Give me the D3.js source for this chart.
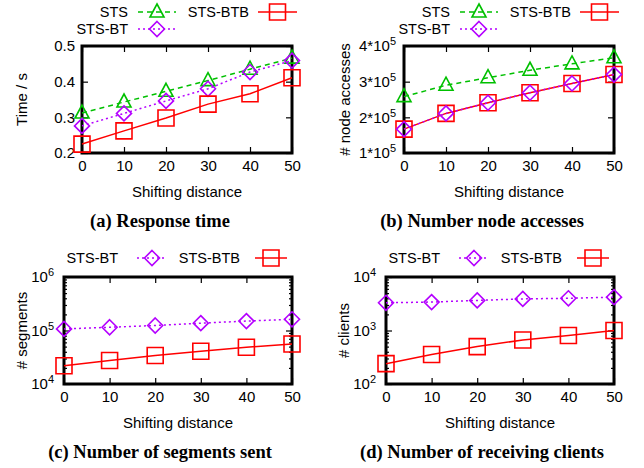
<!DOCTYPE html>
<html>
<head>
<meta charset="utf-8">
<script src="https://cdn.jsdelivr.net/npm/d3@7"></script>
<style>
  body { margin: 0; background: #fff; }
</style>
</head>
<body>
<script>
// shifting distance
const xs = [0, 10, 20, 30, 40, 50];

// (a) response time, seconds
const timeSTS = [0.312, 0.343, 0.373, 0.403, 0.435, 0.466];
const timeBT = [0.276, 0.311, 0.346, 0.380, 0.427, 0.459];
const timeBTB = [0.225, 0.262, 0.298, 0.337, 0.366, 0.411];

// (b) node accesses
const accSTS = [258000, 290000, 311000, 332000, 350000, 367000];
const accBT = [167000, 211000, 241000, 269000, 295000, 320000];
const accBTB = [167000, 211000, 241000, 269000, 295000, 320000];

// (c) segments sent
const segBT = [107000, 115000, 124000, 137000, 150000, 162000];
const segBTB = [22000, 27500, 34000, 41000, 48500, 56000];

// (d) receiving clients
const cliBT = [3300, 3400, 3650, 3900, 4000, 4200];
const cliBTB = [240, 355, 500, 665, 805, 1000];

const timeTicks = [0.2, 0.3, 0.4, 0.5];
const accTicks = [100000, 200000, 300000, 400000];

const SANS = "'Liberation Sans', Arial, sans-serif";
const SERIF = "'Liberation Serif', 'Times New Roman', serif";

const styles = {
  STS: { color: "#00c000", dash: "5,4", marker: "triangle" },
  BT: { color: "#b400ff", dash: "2,3", marker: "diamond" },
  BTB: { color: "#ff0000", dash: null, marker: "square" }
};

const svg = d3.select("body").append("svg")
  .attr("width", 644)
  .attr("height", 468)
  .style("font-family", SANS);

function markerPath(type) {
  if (type === "triangle") return "M0,-8L7,5L-7,5Z";
  if (type === "diamond") return "M0,-7.5L7.5,0L0,7.5L-7.5,0Z";
  return "M-8,-8L8,-8L8,8L-8,8Z";
}

function drawMarker(g, type, color, cx, cy) {
  g.append("path")
    .attr("d", markerPath(type))
    .attr("transform", `translate(${cx},${cy})`)
    .attr("fill", "none")
    .attr("stroke", color)
    .attr("stroke-width", 1.6);
}

function supLabel(sel, mant, exp) {
  sel.text(null);
  sel.append("tspan").text(mant);
  sel.append("tspan").attr("font-size", 11).attr("dy", "-0.55em").text(exp);
}

function drawPanel(o) {
  const g = svg.append("g");
  const x = d3.scaleLinear().domain([0, 50]).range([o.left, o.right]);
  const y = (o.log ? d3.scaleLog() : d3.scaleLinear())
    .domain(o.yDomain).range([o.bottom, o.top]);

  // bottom axis with labels
  g.append("g").attr("transform", `translate(0,${o.bottom})`)
    .call(d3.axisBottom(x).tickValues(xs).tickSize(-6).tickPadding(7));
  // top axis, ticks only
  g.append("g").attr("transform", `translate(0,${o.top})`)
    .call(d3.axisTop(x).tickValues(xs).tickSize(-6).tickFormat(""));
  // left axis
  const lx = g.append("g").attr("transform", `translate(${o.left},0)`)
    .call(d3.axisLeft(y).tickValues(o.yTicks).tickSize(-6).tickPadding(o.labelPad)
      .tickFormat(o.fmt || null));
  g.append("g").attr("transform", `translate(${o.right},0)`)
    .call(d3.axisRight(y).tickValues(o.yTicks).tickSize(-6).tickFormat(""));

  if (o.log) {
    const minor = [];
    const e0 = Math.round(Math.log10(o.yDomain[0]));
    const e1 = Math.round(Math.log10(o.yDomain[1]));
    for (let e = e0; e < e1; e++) {
      for (let k = 2; k <= 9; k++) minor.push(k * Math.pow(10, e));
    }
    g.append("g").attr("transform", `translate(${o.left},0)`)
      .call(d3.axisLeft(y).tickValues(minor).tickSize(-3).tickFormat(""));
    g.append("g").attr("transform", `translate(${o.right},0)`)
      .call(d3.axisRight(y).tickValues(minor).tickSize(-3).tickFormat(""));
  }

  g.selectAll(".domain").remove();
  g.selectAll(".tick line").attr("stroke", "#000").attr("stroke-width", 1.2);
  g.selectAll(".tick text").attr("font-size", 15).attr("fill", "#000")
    .style("font-family", SANS);

  if (o.supFormat) {
    lx.selectAll(".tick text").each(function (d) {
      const p = o.supFormat(d);
      supLabel(d3.select(this), p[0], p[1]);
    });
  }

  // frame
  g.append("rect")
    .attr("x", o.left).attr("y", o.top)
    .attr("width", o.right - o.left).attr("height", o.bottom - o.top)
    .attr("fill", "none").attr("stroke", "#000").attr("stroke-width", 3);

  // series
  o.series.forEach(s => {
    const st = styles[s.key];
    const line = d3.line().x((d, i) => x(xs[i])).y(d => y(d));
    g.append("path")
      .datum(s.values)
      .attr("d", line)
      .attr("fill", "none")
      .attr("stroke", st.color)
      .attr("stroke-width", 1.5)
      .attr("stroke-dasharray", st.dash);
    s.values.forEach((v, i) => drawMarker(g, st.marker, st.color, x(xs[i]), y(v)));
  });

  // legend
  o.legend.forEach(l => {
    const st = styles[l.key];
    g.append("text")
      .attr("x", l.tx).attr("y", l.y).attr("dy", "0.35em")
      .attr("text-anchor", "end").attr("font-size", 14.5)
      .text(l.label);
    g.append("line")
      .attr("x1", l.x1).attr("x2", l.x2).attr("y1", l.y).attr("y2", l.y)
      .attr("stroke", st.color).attr("stroke-width", 1.5)
      .attr("stroke-dasharray", st.dash);
    drawMarker(g, st.marker, st.color, (l.x1 + l.x2) / 2, l.y);
  });

  // axis titles
  g.append("text")
    .attr("transform", `translate(${o.ylabX},${(o.top + o.bottom) / 2}) rotate(-90)`)
    .attr("text-anchor", "middle").attr("dy", "0.35em").attr("font-size", 15)
    .text(o.ylabel);
  g.append("text")
    .attr("x", (o.left + o.right) / 2).attr("y", o.bottom + 44)
    .attr("text-anchor", "middle").attr("font-size", 15)
    .text("Shifting distance");

  g.append("text")
    .attr("x", o.capX).attr("y", o.bottom + 74)
    .attr("text-anchor", "middle")
    .style("font-family", SERIF)
    .attr("font-weight", "bold").attr("font-size", 18.5)
    .text(o.caption);
}

drawPanel({
  left: 82, right: 292, top: 46, bottom: 153,
  yDomain: [0.2, 0.5], yTicks: timeTicks, labelPad: 7, fmt: d3.format(".1f"),
  ylabel: "Time / s", ylabX: 22, capX: 160,
  caption: "(a) Response time",
  series: [
    { key: "STS", values: timeSTS },
    { key: "BT", values: timeBT },
    { key: "BTB", values: timeBTB }
  ],
  legend: [
    { key: "STS", label: "STS", tx: 128, x1: 138, x2: 176, y: 12 },
    { key: "BT", label: "STS-BT", tx: 128, x1: 138, x2: 176, y: 29 },
    { key: "BTB", label: "STS-BTB", tx: 249, x1: 258, x2: 297, y: 12 }
  ]
});

drawPanel({
  left: 404, right: 614, top: 46, bottom: 153,
  yDomain: [100000, 400000], yTicks: accTicks, labelPad: 8,
  supFormat: d => [Math.round(d / 100000) + "*10", "5"],
  ylabel: "# node accesses", ylabX: 345, capX: 482,
  caption: "(b) Number node accesses",
  series: [
    { key: "STS", values: accSTS },
    { key: "BTB", values: accBTB },
    { key: "BT", values: accBT }
  ],
  legend: [
    { key: "STS", label: "STS", tx: 450, x1: 460, x2: 498, y: 12 },
    { key: "BT", label: "STS-BT", tx: 450, x1: 460, x2: 498, y: 29 },
    { key: "BTB", label: "STS-BTB", tx: 571, x1: 580, x2: 619, y: 12 }
  ]
});

drawPanel({
  left: 64, right: 292, top: 277, bottom: 384, log: true,
  yDomain: [1e4, 1e6], yTicks: [1e4, 1e5, 1e6], labelPad: 10,
  supFormat: d => ["10", String(Math.round(Math.log10(d)))],
  ylabel: "# segments", ylabX: 22, capX: 160,
  caption: "(c) Number of segments sent",
  series: [
    { key: "BT", values: segBT },
    { key: "BTB", values: segBTB }
  ],
  legend: [
    { key: "BT", label: "STS-BT", tx: 118, x1: 137, x2: 167, y: 258 },
    { key: "BTB", label: "STS-BTB", tx: 240, x1: 255, x2: 287, y: 258 }
  ]
});

drawPanel({
  left: 386, right: 614, top: 277, bottom: 384, log: true,
  yDomain: [1e2, 1e4], yTicks: [1e2, 1e3, 1e4], labelPad: 10,
  supFormat: d => ["10", String(Math.round(Math.log10(d)))],
  ylabel: "# clients", ylabX: 344, capX: 482,
  caption: "(d) Number of receiving clients",
  series: [
    { key: "BT", values: cliBT },
    { key: "BTB", values: cliBTB }
  ],
  legend: [
    { key: "BT", label: "STS-BT", tx: 440, x1: 459, x2: 489, y: 258 },
    { key: "BTB", label: "STS-BTB", tx: 562, x1: 577, x2: 609, y: 258 }
  ]
});
</script>
</body>
</html>
